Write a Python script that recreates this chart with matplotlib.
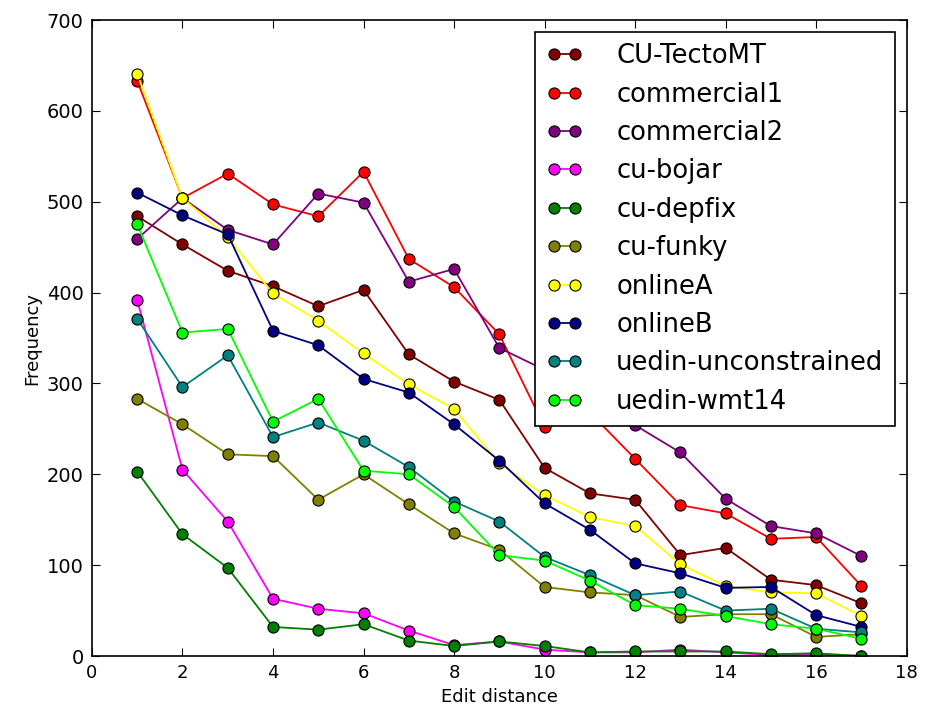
import matplotlib
matplotlib.use("Agg")
import matplotlib.pyplot as plt

# ==============================================================
# DATA
# ==============================================================

edit_distance = list(range(1, 18))

cu_tectomt = [484, 453, 424, 407, 385, 403, 332, 302, 282, 207, 179, 172, 111, 119, 84, 78, 58]
commercial1 = [633, 504, 531, 497, 484, 533, 437, 406, 354, 252, 268, 217, 166, 157, 129, 131, 77]
commercial2 = [459, 504, 469, 453, 509, 499, 412, 426, 339, 315, 290, 254, 224, 173, 143, 135, 110]
cu_bojar = [392, 205, 148, 63, 52, 47, 28, 12, 16, 7, 4, 4, 7, 4, 1, 2, 0]
cu_depfix = [203, 134, 97, 32, 29, 35, 17, 11, 16, 11, 4, 5, 5, 5, 2, 3, 0]
cu_funky = [283, 255, 222, 220, 172, 200, 167, 135, 117, 76, 70, 67, 43, 46, 46, 21, 24]
online_a = [641, 504, 461, 399, 369, 333, 299, 272, 212, 177, 153, 143, 101, 77, 70, 69, 44]
online_b = [510, 485, 464, 358, 342, 305, 290, 255, 215, 168, 139, 102, 91, 75, 76, 45, 32]
uedin_unc = [371, 296, 331, 241, 257, 237, 208, 170, 148, 109, 89, 67, 71, 50, 52, 30, 26]
uedin_wmt14 = [475, 356, 360, 258, 283, 204, 200, 164, 111, 105, 83, 56, 52, 44, 35, 30, 19]

names = ["CU-TectoMT", "commercial1", "commercial2", "cu-bojar", "cu-depfix",
         "cu-funky", "onlineA", "onlineB", "uedin-unconstrained", "uedin-wmt14"]
series = [cu_tectomt, commercial1, commercial2, cu_bojar, cu_depfix,
          cu_funky, online_a, online_b, uedin_unc, uedin_wmt14]
colors = ["#800000", "#ff0000", "#800080", "#ff00ff", "#008000",
          "#808000", "#ffff00", "#000080", "#008080", "#00ff00"]

# ==============================================================
# DRAW
# ==============================================================

fig = plt.figure(figsize=(9.29, 7.15), dpi=100)
ax = fig.add_axes([0.099, 0.0825, 0.877, 0.8895])

for name, values, c in zip(names, series, colors):
    ax.plot(edit_distance, values, "-o", color=c, label=name, linewidth=1.3,
            markersize=8, markerfacecolor=c, markeredgecolor="black", markeredgewidth=0.8)

ax.set_xlim(0, 18)
ax.set_ylim(0, 700)
ax.set_xticks(range(0, 19, 2))
ax.set_yticks(range(0, 701, 100))
ax.tick_params(direction="in", top=True, right=True, length=6, labelsize=13, pad=6)
ax.tick_params(axis="y", labelsize=14)
for s in ax.spines.values():
    s.set_linewidth(1.2)

ax.set_xlabel("Edit distance", fontsize=13)
ax.set_ylabel("Frequency", fontsize=13)

leg = ax.legend(loc="upper right", fontsize=18.6, numpoints=2, fancybox=False,
                framealpha=1, edgecolor="black", handlelength=1.4,
                borderaxespad=0.45, labelspacing=0.48, handletextpad=1.3,
                borderpad=0.45)
leg.get_frame().set_linewidth(1.2)

fig.savefig("out.png", dpi=100)
